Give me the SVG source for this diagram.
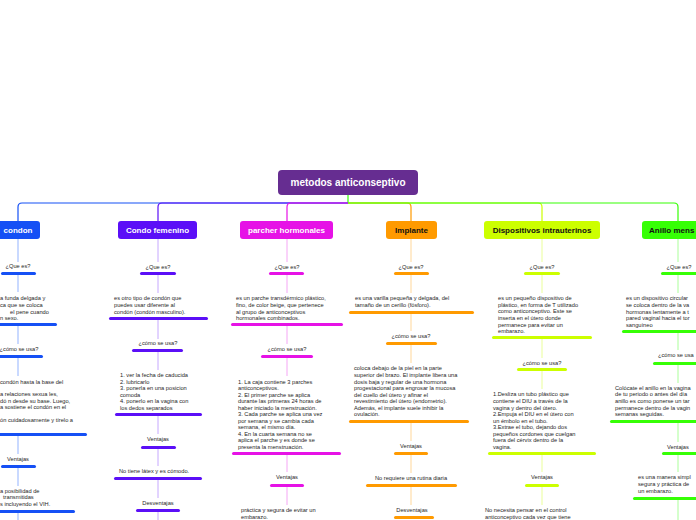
<svg xmlns="http://www.w3.org/2000/svg" width="696" height="520" viewBox="0 0 696 520">
<style>
.t{font-family:"Liberation Sans",Arial,sans-serif;font-size:5.7px;fill:#262626}
.m{text-anchor:middle}
.n{font-family:"Liberation Sans",Arial,sans-serif;font-size:8px;font-weight:bold;text-anchor:middle}
.w{fill:#fff}
.k{fill:#111}
.c{fill:none;stroke-width:1.2}
.v{fill:none;stroke-width:1}
.b1{fill:#1550f5}.b2{fill:#5b0ff7}.b3{fill:#e612e6}.b4{fill:#ff9a00}.b5{fill:#ccff00}.b6{fill:#36ff05}
</style>
<rect width="696" height="520" fill="#fff"/>
<g id="connectors">
<path class="c" d="M348 195V203" stroke="#36ff05"/>
<path class="c" d="M348 203H22Q18 203 18 207V221" stroke="#1550f5"/>
<path class="c" d="M348 203H162Q158 203 158 207V221" stroke="#5b0ff7"/>
<path class="c" d="M348 203H291Q287 203 287 207V221" stroke="#e612e6"/>
<path class="c" d="M348 203H407Q411 203 411 207V221" stroke="#ff9a00"/>
<path class="c" d="M348 203H538Q542 203 542 207V221" stroke="#ccff00"/>
<path class="c" d="M348 203H674Q678 203 678 207V221" stroke="#36ff05"/>
<path class="v" stroke="#93b3ff" d="M18 239V262M18 275V292M18 326V344M18 358V376M18 436V454M18 468V486M18 513V520"/>
<path class="v" stroke="#c6a8ff" d="M158 239V262M158 275V293M158 320V339M158 352V370M158 416V434M158 449V466M158 480V498M158 512V520"/>
<path class="v" stroke="#f5a6f5" d="M287 239V262M287 275V293M287 326V344M287 358V376M287 455V472M287 487V505"/>
<path class="v" stroke="#ffd79a" d="M411 239V262M411 275V293M411 314V331M411 345V363M411 423V441M411 455V473M411 487V505"/>
<path class="v" stroke="#eaff99" d="M542 239V262M542 275V293M542 339V358M542 371V389M542 455V472M542 487V505"/>
<path class="v" stroke="#aaff99" d="M678 239V262M678 275V293M678 333V350M678 365V383M678 423V442M678 455V472M678 500V520"/>
</g>
<g id="root">
<rect x="278" y="170" width="140" height="25" rx="4" fill="#662d91"/>
<text class="n w" x="348" y="186" style="font-size:10px">metodos anticonseptivo</text>
</g>
<g id="condon">
<rect x="-10" y="221" width="50" height="18" rx="3" class="b1"/>
<text class="n w" x="18" y="233">condon</text>
</g>
<g id="condon-items">
<text class="t m" x="18" y="268">¿Que es?</text>
<rect class="b1" x="1" y="272" width="35" height="3" rx="1.5"/>
<text class="t" x="0" y="300">a funda delgada y</text>
<text class="t" x="0" y="307">ca que se coloca</text>
<text class="t" x="10" y="313.5">el pene cuando</text>
<text class="t" x="0" y="320">n sexo.</text>
<rect class="b1" x="-2" y="323" width="59" height="3" rx="1.5"/>
<text class="t m" x="19" y="351">¿cómo se usa?</text>
<rect class="b1" x="-2" y="355" width="45" height="3" rx="1.5"/>
<text class="t" x="0" y="384">condón hasta la base del</text>
<text class="t" x="0" y="396">a relaciones sexua les,</text>
<text class="t" x="0" y="403">dó n desde su base. Luego,</text>
<text class="t" x="0" y="409">a sostiene el condón en el</text>
<text class="t" x="0" y="422">ón cuidadosamente y tírelo a</text>
<rect class="b1" x="-2" y="433" width="89" height="3" rx="1.5"/>
<text class="t m" x="18" y="461">Ventajas</text>
<rect class="b1" x="1" y="465" width="35" height="3" rx="1.5"/>
<text class="t" x="0" y="493">a posibilidad de</text>
<text class="t" x="3" y="499">transmitidas</text>
<text class="t" x="0" y="506">s incluyendo el VIH.</text>
<rect class="b1" x="-2" y="510" width="77" height="3" rx="1.5"/>
</g>
<g id="condon-femenino">
<rect x="118" y="221" width="79" height="18" rx="3" class="b2"/>
<text class="n w" x="157.5" y="233">Condo femenino</text>
</g>
<g id="femenino-items">
<text class="t m" x="158" y="269">¿Que es?</text>
<rect class="b2" x="140" y="272" width="36" height="3" rx="1.5"/>
<text class="t" x="114" y="300">es otro tipo de condón que</text>
<text class="t" x="114" y="307">puedes usar diferente al</text>
<text class="t" x="114" y="314">condón (condón masculino).</text>
<rect class="b2" x="109" y="317" width="99" height="3" rx="1.5"/>
<text class="t m" x="158" y="345">¿cómo se usa?</text>
<rect class="b2" x="132" y="349" width="51" height="3" rx="1.5"/>
<text class="t" x="120" y="377">1. ver la fecha de caducida</text>
<text class="t" x="120" y="383.5">2. lubricarlo</text>
<text class="t" x="120" y="390">3. ponerla en una posicion</text>
<text class="t" x="120" y="396.5">comoda</text>
<text class="t" x="120" y="403">4. ponerlo en la vagina con</text>
<text class="t" x="120" y="409.5">los dedos separados</text>
<rect class="b2" x="115" y="413" width="87" height="3" rx="1.5"/>
<text class="t m" x="158" y="441">Ventajas</text>
<rect class="b2" x="141" y="446" width="35" height="3" rx="1.5"/>
<text class="t" x="119" y="473">No tiene látex y es cómodo.</text>
<rect class="b2" x="114" y="477" width="88" height="3" rx="1.5"/>
<text class="t m" x="158" y="505">Desventajas</text>
<rect class="b2" x="136" y="509" width="44" height="3" rx="1.5"/>
</g>
<g id="parcher-hormonales">
<rect x="240" y="221" width="93" height="18" rx="3" class="b3"/>
<text class="n w" x="286.5" y="233">parcher hormonales</text>
</g>
<g id="parcher-items">
<text class="t m" x="287" y="269">¿Que es?</text>
<rect class="b3" x="269" y="272" width="35" height="3" rx="1.5"/>
<text class="t" x="236" y="300">es un parche transdérmico plástico,</text>
<text class="t" x="236" y="307">fino, de color beige, que pertenece</text>
<text class="t" x="236" y="313.5">al grupo de anticonceptivos</text>
<text class="t" x="236" y="320">hormonales combinados.</text>
<rect class="b3" x="231" y="323" width="112" height="3" rx="1.5"/>
<text class="t m" x="287" y="351">¿cómo se usa?</text>
<rect class="b3" x="261" y="355" width="52" height="3" rx="1.5"/>
<text class="t" x="238" y="383.5">1. La caja contiene 3 parches</text>
<text class="t" x="238" y="390">anticonceptivos.</text>
<text class="t" x="238" y="396.5">2. El primer parche se aplica</text>
<text class="t" x="238" y="403">durante las primeras 24 horas de</text>
<text class="t" x="238" y="409.5">haber iniciado la menstruación.</text>
<text class="t" x="238" y="416">3. Cada parche se aplica una vez</text>
<text class="t" x="238" y="422.5">por semana y se cambia cada</text>
<text class="t" x="238" y="429">semana, el mismo día.</text>
<text class="t" x="238" y="435.5">4. En la cuarta semana no se</text>
<text class="t" x="238" y="442">aplica el parche y es donde se</text>
<text class="t" x="238" y="448.5">presenta la menstruación.</text>
<rect class="b3" x="232" y="452" width="109" height="3" rx="1.5"/>
<text class="t m" x="287" y="479">Ventajas</text>
<rect class="b3" x="270" y="484" width="34" height="3" rx="1.5"/>
<text class="t" x="241" y="512">práctica y segura de evitar un</text>
<text class="t" x="241" y="519">embarazo.</text>
</g>
<g id="implante">
<rect x="386" y="221" width="51" height="18" rx="3" class="b4"/>
<text class="n k" x="411.5" y="233">Implante</text>
</g>
<g id="implante-items">
<text class="t m" x="411" y="269">¿Que es?</text>
<rect class="b4" x="394" y="272" width="35" height="3" rx="1.5"/>
<text class="t" x="355" y="300">es una varilla pequeña y delgada, del</text>
<text class="t" x="355" y="307">tamaño de un cerillo (fósforo).</text>
<rect class="b4" x="349" y="311" width="125" height="3" rx="1.5"/>
<text class="t m" x="411" y="338">¿cómo se usa?</text>
<rect class="b4" x="386" y="342" width="51" height="3" rx="1.5"/>
<text class="t" x="354" y="370">coloca debajo de la piel en la parte</text>
<text class="t" x="354" y="377">superior del brazo. El implante libera una</text>
<text class="t" x="354" y="383.5">dosis baja y regular de una hormona</text>
<text class="t" x="354" y="390">progestacional para engrosar la mucosa</text>
<text class="t" x="354" y="396.5">del cuello del útero y afinar el</text>
<text class="t" x="354" y="403">revestimiento del útero (endometrio).</text>
<text class="t" x="354" y="409.5">Además, el implante suele inhibir la</text>
<text class="t" x="354" y="416">ovulación.</text>
<rect class="b4" x="349" y="420" width="120" height="3" rx="1.5"/>
<text class="t m" x="411" y="448">Ventajas</text>
<rect class="b4" x="394" y="452" width="34" height="3" rx="1.5"/>
<text class="t m" x="411" y="480">No requiere una rutina diaria</text>
<rect class="b4" x="366" y="484" width="91" height="3" rx="1.5"/>
<text class="t m" x="412" y="512">Desventajas</text>
<rect class="b4" x="394" y="516" width="40" height="3" rx="1.5"/>
</g>
<g id="dispositivos-intrauterinos">
<rect x="484" y="221" width="116" height="18" rx="3" class="b5"/>
<text class="n k" x="542" y="233">Dispositivos intrauterinos</text>
</g>
<g id="dispositivos-items">
<text class="t m" x="542" y="269">¿Que es?</text>
<rect class="b5" x="524" y="272" width="36" height="3" rx="1.5"/>
<text class="t" x="498" y="300">es un pequeño dispositivo de</text>
<text class="t" x="498" y="306.7">plástico, en forma de T utilizado</text>
<text class="t" x="498" y="313.4">como anticonceptivo. Este se</text>
<text class="t" x="498" y="320">inserta en el útero donde</text>
<text class="t" x="498" y="326.7">permanece para evitar un</text>
<text class="t" x="498" y="333">embarazo.</text>
<rect class="b5" x="492" y="336" width="100" height="3" rx="1.5"/>
<text class="t m" x="542" y="365">¿cómo se usa?</text>
<rect class="b5" x="517" y="368" width="50" height="3" rx="1.5"/>
<text class="t" x="493" y="396">1.Desliza un tubo plástico que</text>
<text class="t" x="493" y="403">contiene el DIU a través de la</text>
<text class="t" x="493" y="409.5">vagina y dentro del útero.</text>
<text class="t" x="493" y="416">2.Empuja el DIU en el útero con</text>
<text class="t" x="493" y="422.5">un émbolo en el tubo.</text>
<text class="t" x="493" y="429">3.Extrae el tubo, dejando dos</text>
<text class="t" x="493" y="435.5">pequeños cordones que cuelgan</text>
<text class="t" x="493" y="442">fuera del cérvix dentro de la</text>
<text class="t" x="493" y="448.5">vagina.</text>
<rect class="b5" x="488" y="452" width="108" height="3" rx="1.5"/>
<text class="t m" x="542" y="479">Ventajas</text>
<rect class="b5" x="525" y="484" width="34" height="3" rx="1.5"/>
<text class="t" x="485" y="512">No necesita pensar en el control</text>
<text class="t" x="485" y="519">anticonceptivo cada vez que tiene</text>
</g>
<g id="anillo">
<rect x="642" y="221" width="70" height="18" rx="3" class="b6"/>
<text class="n k" x="649" y="233" style="text-anchor:start">Anillo mens</text>
</g>
<g id="anillo-items">
<text class="t m" x="679" y="269">¿Que es?</text>
<rect class="b6" x="661" y="272" width="40" height="3" rx="1.5"/>
<text class="t" x="626" y="300">es un dispositivo circular</text>
<text class="t" x="626" y="307">se coloca dentro de la va</text>
<text class="t" x="626" y="313.5">hormonas lentamente a t</text>
<text class="t" x="626" y="320">pared vaginal hacia el tor</text>
<text class="t" x="626" y="326.7">sanguíneo</text>
<rect class="b6" x="622" y="330" width="80" height="3" rx="1.5"/>
<text class="t" x="658" y="357">¿cómo se usa</text>
<rect class="b6" x="653" y="362" width="50" height="3" rx="1.5"/>
<text class="t" x="615" y="389.5">Colócate el anillo en la vagina</text>
<text class="t" x="615" y="395.5">de tu periodo o antes del día</text>
<text class="t" x="615" y="403">anillo es como ponerse un tar</text>
<text class="t" x="615" y="409.5">permanece dentro de la vagin</text>
<text class="t" x="615" y="416">semanas seguidas.</text>
<rect class="b6" x="610" y="420" width="90" height="3" rx="1.5"/>
<text class="t" x="667" y="449">Ventajas</text>
<rect class="b6" x="662" y="452" width="40" height="3" rx="1.5"/>
<text class="t" x="638" y="479">es una manera simpl</text>
<text class="t" x="638" y="486">segura y práctica de</text>
<text class="t" x="638" y="493">un embarazo.</text>
<rect class="b6" x="633" y="497" width="70" height="3" rx="1.5"/>
</g>
</svg>
